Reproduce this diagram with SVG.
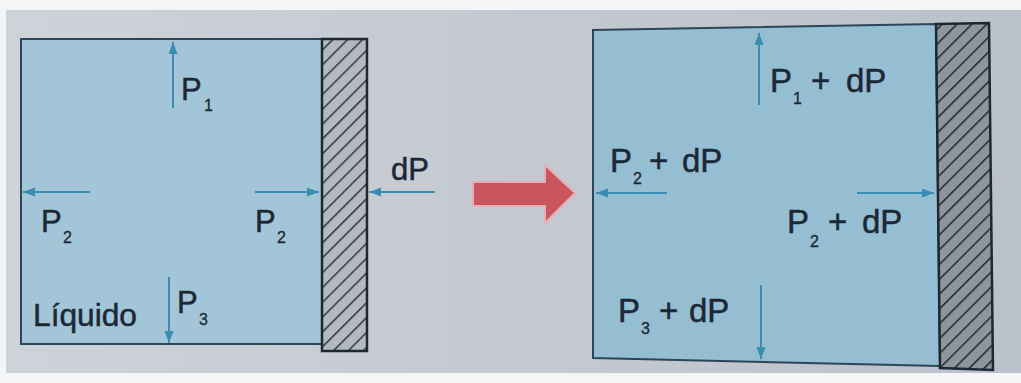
<svg xmlns="http://www.w3.org/2000/svg" width="1021" height="383" viewBox="0 0 1021 383">
  <defs>
    <linearGradient id="page" x1="0" y1="0" x2="1" y2="0">
      <stop offset="0" stop-color="#ced2d9"/>
      <stop offset="1" stop-color="#bbc1ca"/>
    </linearGradient>
    <pattern id="hatchL" patternUnits="userSpaceOnUse" width="10.5" height="10.5" patternTransform="rotate(45)">
      <rect width="10.5" height="10.5" fill="#b4b8bf"/>
      <line x1="0" y1="0" x2="0" y2="10.5" stroke="#2e3640" stroke-width="3"/>
    </pattern>
    <pattern id="hatchR" patternUnits="userSpaceOnUse" width="10.5" height="10.5" patternTransform="rotate(45)">
      <rect width="10.5" height="10.5" fill="#8f959d"/>
      <line x1="0" y1="0" x2="0" y2="10.5" stroke="#1f262e" stroke-width="3"/>
    </pattern>
    <marker id="ah" markerUnits="userSpaceOnUse" markerWidth="14" markerHeight="10" refX="12" refY="4.5" orient="auto">
      <path d="M0,0 L12,4.5 L0,9 z" fill="#3a8db2"/>
    </marker>
  </defs>
  <style>
    .liq { stroke: #2c4658; stroke-width: 2; }
    .wall { stroke: #1e2830; stroke-width: 2.5; }
    .arr { stroke: #3a8db2; stroke-width: 2; fill: none; marker-end: url(#ah); }
    .t { font-family: "Liberation Sans", Arial, sans-serif; font-size: 31px; fill: #1c2835; stroke: #1c2835; stroke-width: 0.5; }
    .s { font-family: "Liberation Sans", Arial, sans-serif; font-size: 16px; fill: #1c2835; stroke: #1c2835; stroke-width: 0.3; }
    .t2 { font-family: "Liberation Sans", Arial, sans-serif; font-size: 33px; fill: #1c2835; stroke: #1c2835; stroke-width: 0.5; }
  </style>

  <rect width="1021" height="383" fill="#f4f5f7"/>
  <rect x="6" y="10" width="1015" height="363" fill="url(#page)"/>

  <!-- Left state -->
  <g id="left-liquid">
    <rect class="liq" x="21" y="39" width="301" height="305" fill="#a2c6d7"/>
    <text class="t" x="33" y="326" textLength="104" lengthAdjust="spacingAndGlyphs">Líquido</text>
  </g>
  <g id="left-wall">
    <rect class="wall" x="322" y="39" width="45" height="312" fill="url(#hatchL)"/>
  </g>
  <g id="left-labels">
    <text class="t" x="181" y="100">P</text><text class="s" x="204" y="111">1</text>
    <text class="t" x="41" y="232">P</text><text class="s" x="63" y="243">2</text>
    <text class="t" x="255" y="232">P</text><text class="s" x="277" y="243">2</text>
    <text class="t" x="391" y="180">dP</text>
    <text class="t" x="177" y="313">P</text><text class="s" x="199" y="325">3</text>
  </g>

  <!-- Right state -->
  <g id="right-liquid">
    <polygon class="liq" points="593,30 936,24 940,366 593,358" fill="#95bed2"/>
  </g>
  <g id="right-wall">
    <polygon class="wall" points="936,24 989,23 993,370 940,368" fill="url(#hatchR)"/>
  </g>
  <g id="right-labels">
    <text class="t2" x="770" y="92">P</text><text class="s" x="793" y="104">1</text>
    <text class="t2" x="811" y="92">+</text><text class="t2" x="846" y="92">dP</text>

    <text class="t2" x="610" y="172">P</text><text class="s" x="633" y="184">2</text>
    <text class="t2" x="649" y="172">+</text><text class="t2" x="682" y="172">dP</text>

    <text class="t2" x="787" y="233">P</text><text class="s" x="810" y="247">2</text>
    <text class="t2" x="828" y="233">+</text><text class="t2" x="862" y="233">dP</text>

    <text class="t2" x="618" y="322">P</text><text class="s" x="641" y="334">3</text>
    <text class="t2" x="659" y="322">+</text><text class="t2" x="689" y="322">dP</text>
  </g>

  <g id="transition-arrow">
    <polygon points="473,182 545,182 545,165 575,193 545,223 545,206 473,206" fill="#c9555f" stroke="#e6aeb6" stroke-width="2" stroke-linejoin="round"/>
  </g>

  <g id="connectors">
    <line class="arr" x1="173" y1="108" x2="173" y2="42"/>
    <line class="arr" x1="90" y1="192" x2="23" y2="192"/>
    <line class="arr" x1="255" y1="192" x2="319" y2="192"/>
    <line class="arr" x1="435" y1="192" x2="369" y2="192"/>
    <line class="arr" x1="169" y1="277" x2="169" y2="343"/>

    <line class="arr" x1="759" y1="105" x2="759" y2="33"/>
    <line class="arr" x1="667" y1="193" x2="596" y2="193"/>
    <line class="arr" x1="857" y1="193" x2="934" y2="193"/>
    <line class="arr" x1="761" y1="285" x2="761" y2="359"/>
  </g>
</svg>
